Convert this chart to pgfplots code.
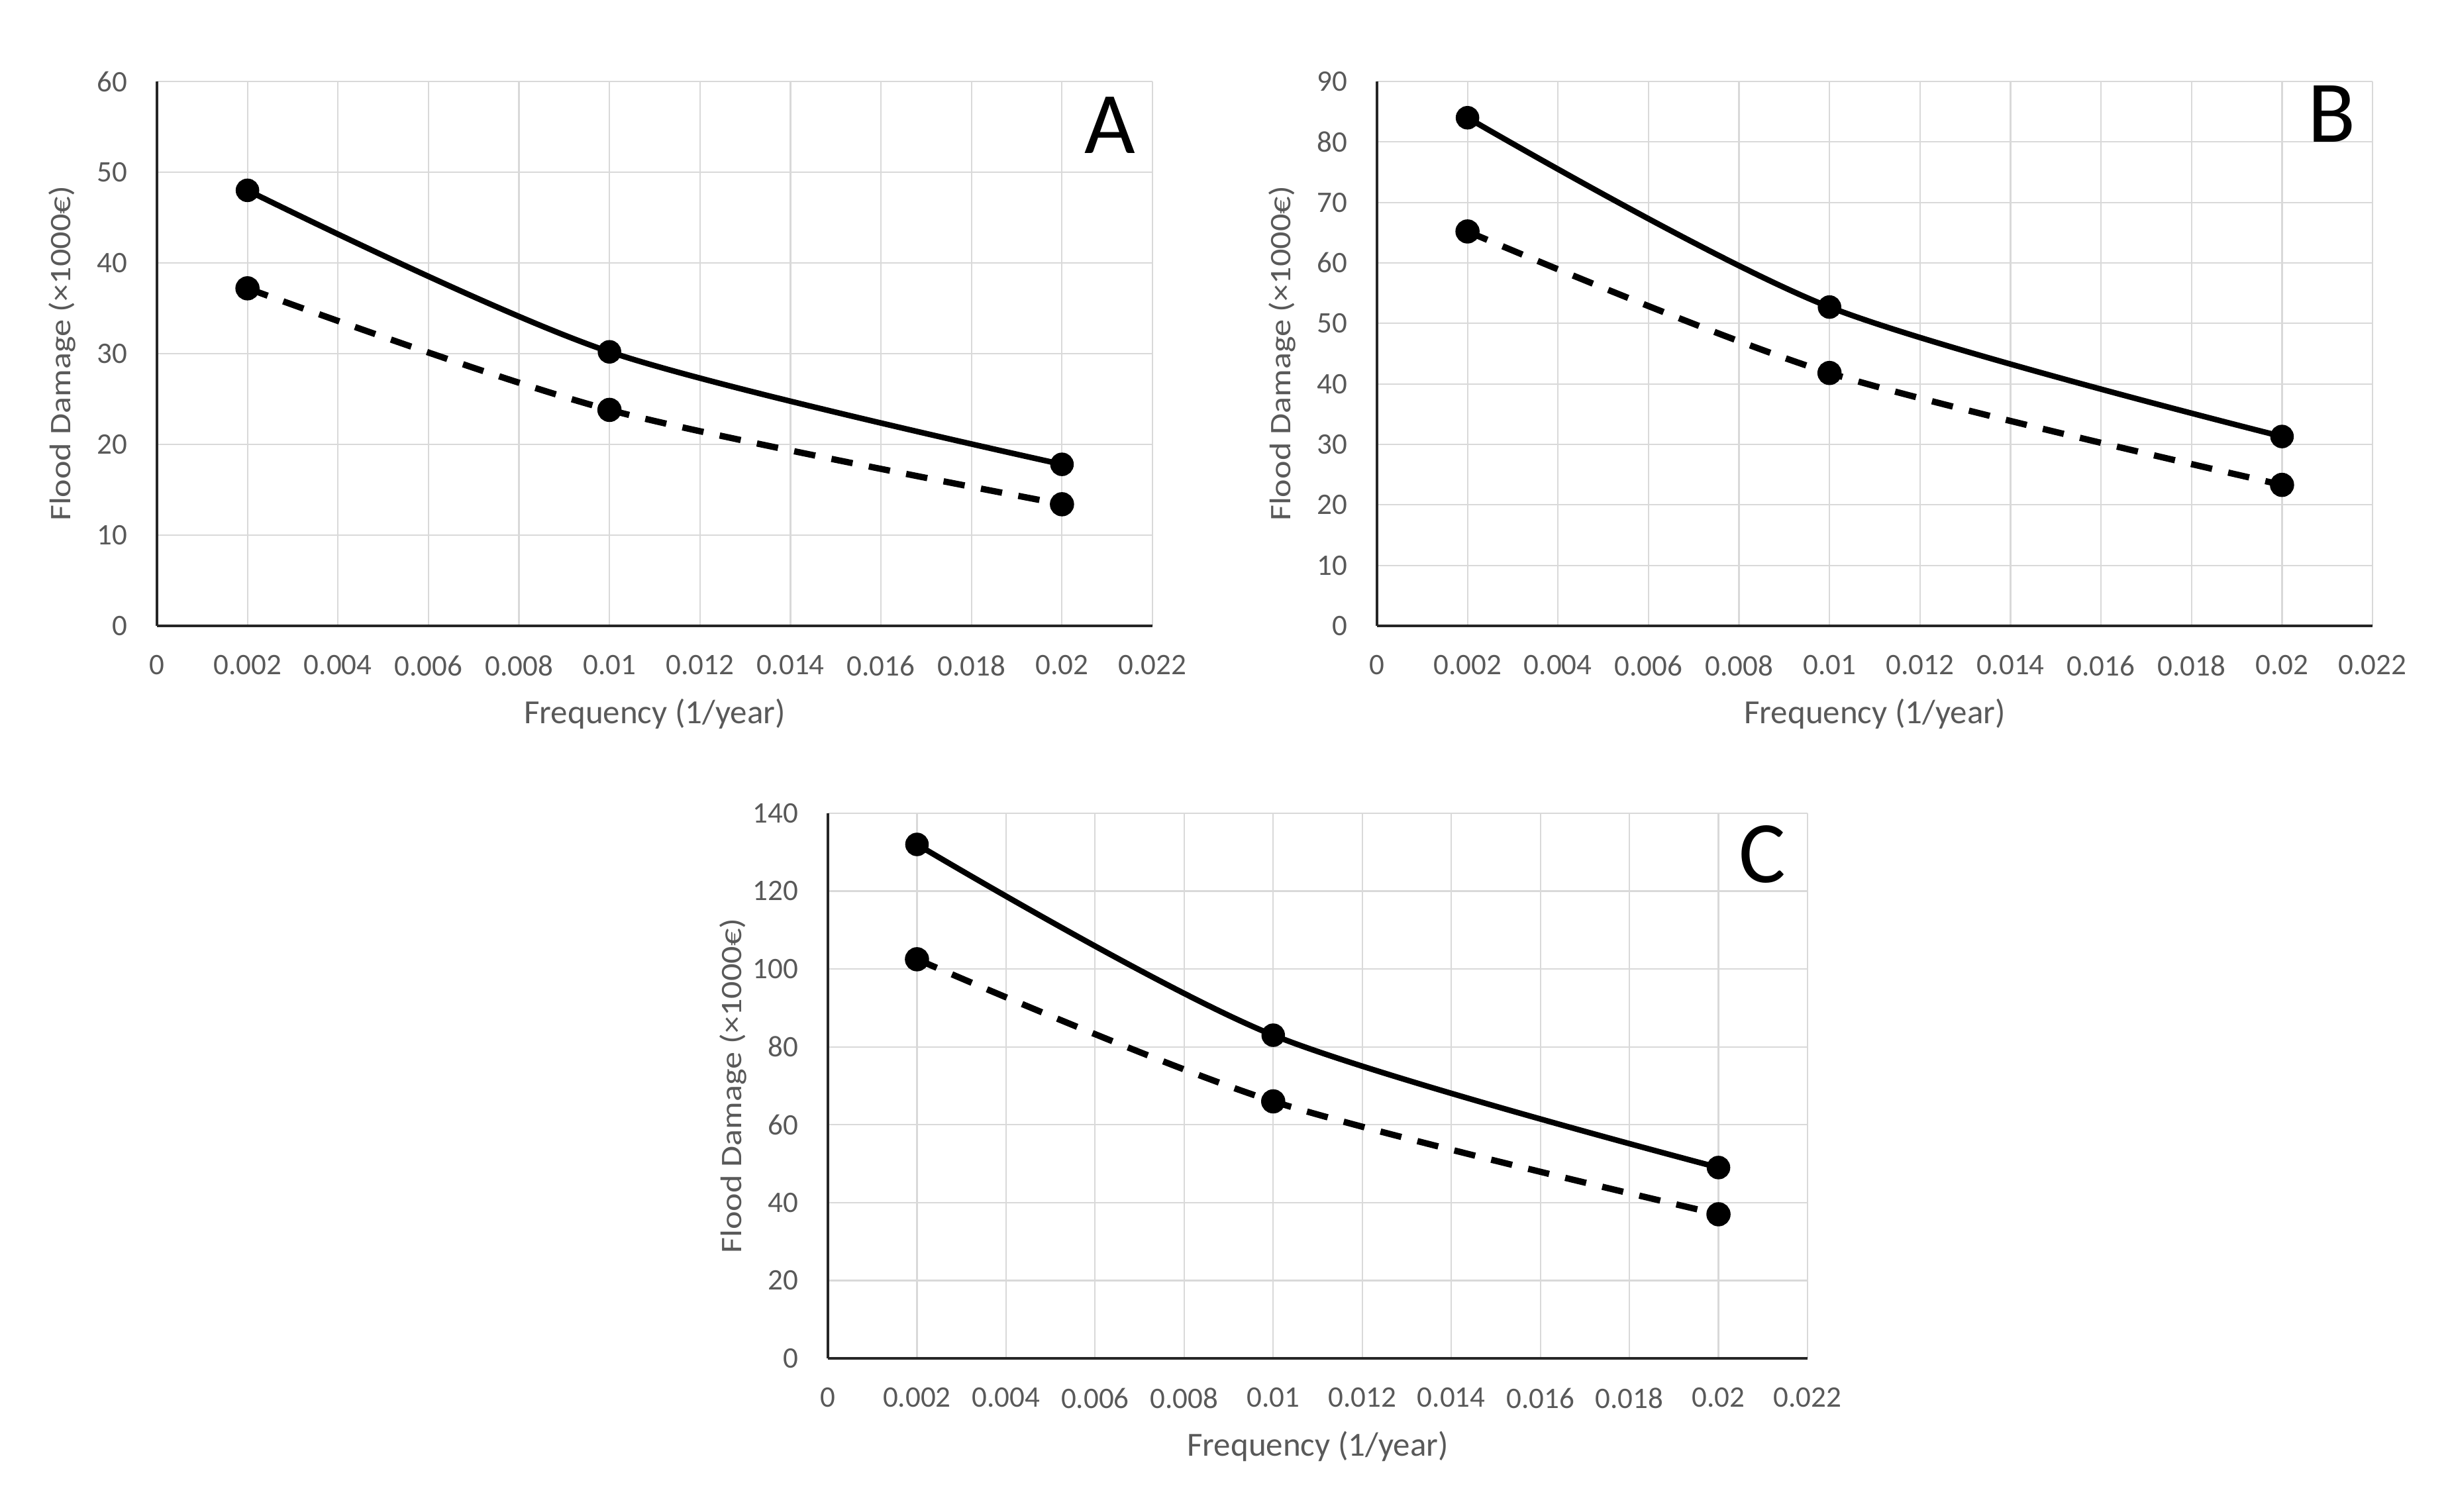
\documentclass[border=0pt]{standalone}
\usepackage{fontspec}
\setmainfont{Carlito}
\usepackage{graphicx}
\usepackage{pgfplots}
\pgfplotsset{compat=1.18}

\definecolor{gridgray}{RGB}{217,217,217}
\definecolor{txtgray}{RGB}{89,89,89}

\pgfplotsset{
  floodax/.style={
    scale only axis,
    width=300.6pt, height=164.4pt,
    xmin=0, xmax=0.022, ymin=0,
    scaled x ticks=false,
    xtick={0,0.002,0.004,0.006,0.008,0.01,0.012,0.014,0.016,0.018,0.02,0.022},
    xticklabels={0,0.002,0.004,0.006,0.008,0.01,0.012,0.014,0.016,0.018,0.02,0.022},
    /pgf/number format/assume math mode=true,
    axis x line*=bottom, axis y line*=left,
    axis line style={-, draw=black!85, line width=0.7pt},
    grid=major,
    major grid style={draw=gridgray, line width=0.45pt},
    major tick length=0pt,
    tick style={draw=none},
    xticklabel shift=5.4pt, yticklabel shift=5.4pt,
    tick label style={font=\fontsize{9}{10}\selectfont, text=txtgray},
    xlabel={Frequency (1/year)},
    ylabel={\scalebox{1.16}[1]{Flood Damage (×1000€)}},
    xlabel style={font=\fontsize{10.2}{12}\selectfont, text=txtgray,
      at={(axis description cs:0.5,-0.162)}, anchor=center},
    ylabel style={font=\fontsize{9}{11}\selectfont, text=txtgray,
      anchor=center},
    clip=false,
  },
  solidline/.style={black, line width=1.7pt, smooth, mark=*,
    mark size=2.7pt, mark options={solid}},
  dashline/.style={black, line width=1.9pt, smooth, mark=*,
    mark size=2.7pt, dash pattern=on 6.5pt off 5pt, mark options={solid}},
}

\begin{document}
\begin{tikzpicture}
\path[use as bounding box] (0,0) rectangle (739.8pt,456.6pt);

% A
\begin{axis}[floodax, at={(47.4pt,267.6pt)}, anchor=south west,
  ymax=60, ytick={0,10,...,60},
  ylabel style={at={(axis description cs:-0.095,0.5)}}]
\addplot[solidline] coordinates {(0.002,48.0) (0.01,30.2) (0.02,17.8)};
\addplot[dashline] coordinates {(0.002,37.2) (0.01,23.8) (0.02,13.4)};
\node[font=\fontsize{26.5}{30}\selectfont] at (axis description cs:0.957,0.92) {A};
\end{axis}

% B
\begin{axis}[floodax, at={(415.8pt,267.6pt)}, anchor=south west,
  ymax=90, ytick={0,10,...,90},
  ylabel style={at={(axis description cs:-0.095,0.5)}}]
\addplot[solidline] coordinates {(0.002,84.0) (0.01,52.7) (0.02,31.3)};
\addplot[dashline] coordinates {(0.002,65.2) (0.01,41.8) (0.02,23.3)};
\node[font=\fontsize{26.5}{30}\selectfont] at (axis description cs:0.959,0.94) {B};
\end{axis}

% C
\begin{axis}[floodax, at={(250pt,46.4pt)}, anchor=south west,
  width=295.8pt, height=164.6pt,
  ymax=140, ytick={0,20,...,140},
  ylabel style={at={(axis description cs:-0.097,0.5)}}]
\addplot[solidline] coordinates {(0.002,132.0) (0.01,83.0) (0.02,49.0)};
\addplot[dashline] coordinates {(0.002,102.5) (0.01,66.0) (0.02,37.0)};
\node[font=\fontsize{26.5}{30}\selectfont] at (axis description cs:0.954,0.925) {C};
\end{axis}
\end{tikzpicture}
\end{document}
